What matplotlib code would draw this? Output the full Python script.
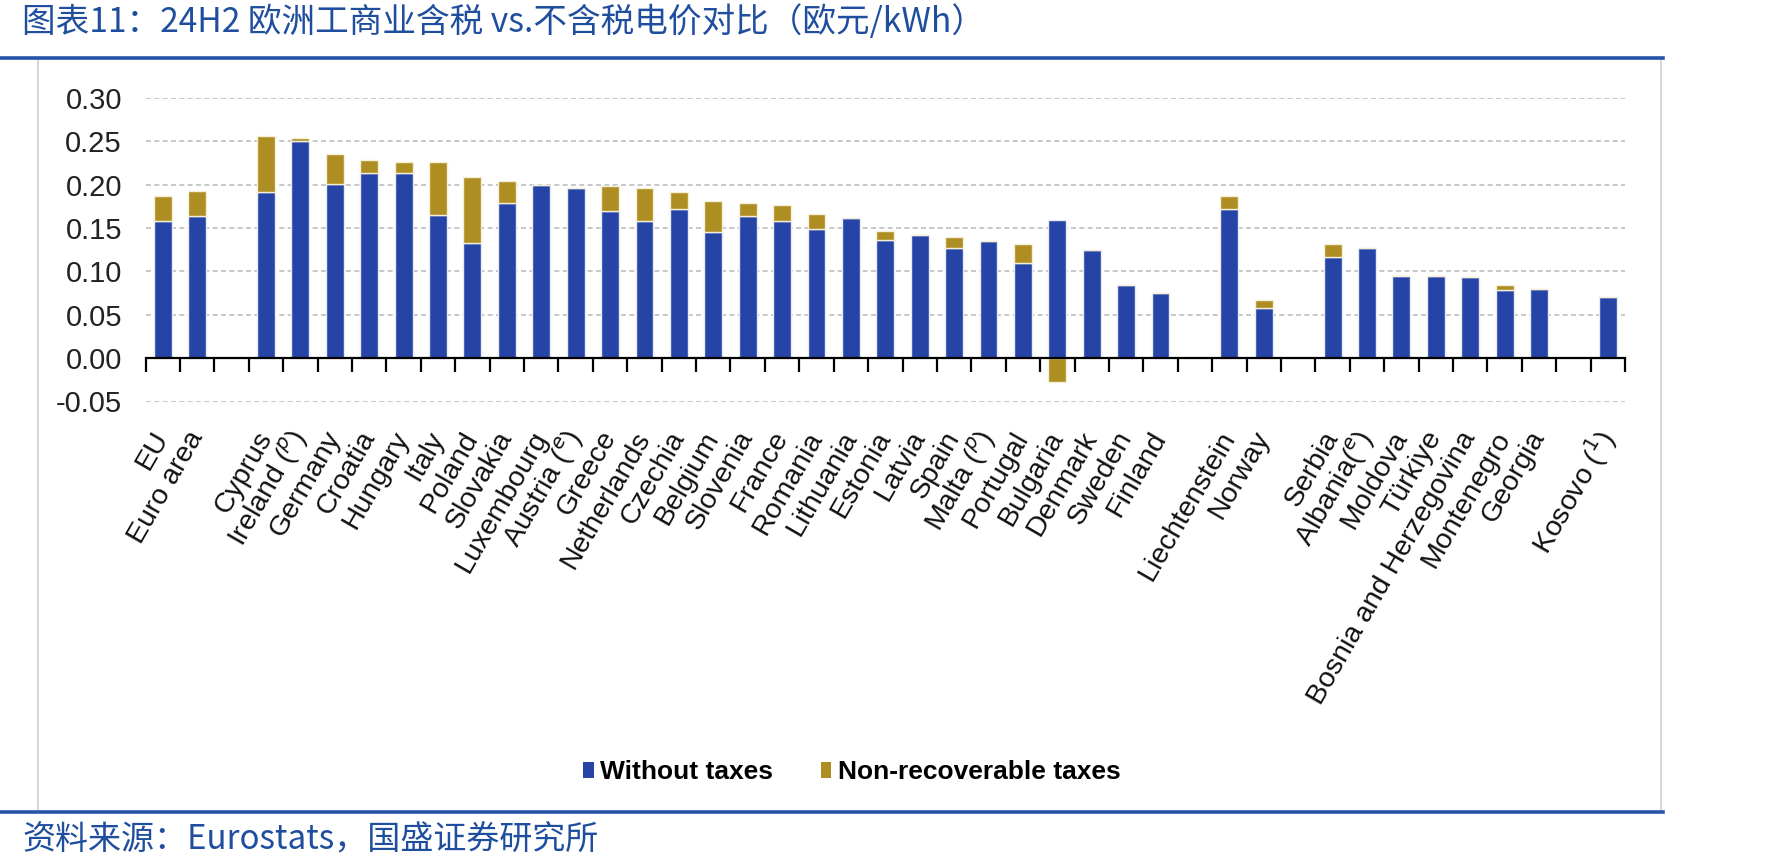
import numpy as np
import matplotlib
matplotlib.use("Agg")
import matplotlib.pyplot as plt
from matplotlib.lines import Line2D
from matplotlib.patches import Patch

# ---------------- data ----------------
categories = ["EU", "Euro area", "",
              "Cyprus", r"Ireland ($^{p}$)", "Germany", "Croatia", "Hungary", "Italy", "Poland",
              "Slovakia", "Luxembourg", r"Austria ($^{e}$)", "Greece", "Netherlands", "Czechia",
              "Belgium", "Slovenia", "France", "Romania", "Lithuania", "Estonia", "Latvia",
              "Spain", r"Malta ($^{p}$)", "Portugal", "Bulgaria", "Denmark", "Sweden", "Finland", "",
              "Liechtenstein", "Norway", "",
              "Serbia", r"Albania($^{e}$)", "Moldova", "Türkiye", "Bosnia and Herzegovina",
              "Montenegro", "Georgia", "",
              r"Kosovo ($^{1}$)"]

without_taxes = [0.158, 0.164, np.nan,
                 0.192, 0.250, 0.201, 0.213, 0.213, 0.165, 0.133,
                 0.179, 0.200, 0.196, 0.170, 0.158, 0.172,
                 0.145, 0.164, 0.158, 0.149, 0.162, 0.136, 0.142,
                 0.127, 0.135, 0.110, 0.159, 0.125, 0.084, 0.075, np.nan,
                 0.172, 0.058, np.nan,
                 0.117, 0.127, 0.095, 0.095, 0.093,
                 0.078, 0.080, np.nan,
                 0.071]

non_recoverable_taxes = [0.029, 0.029, np.nan,
                         0.064, 0.004, 0.034, 0.015, 0.013, 0.061, 0.076,
                         0.025, 0.0, 0.0, 0.028, 0.038, 0.020,
                         0.036, 0.015, 0.019, 0.017, 0.0, 0.011, 0.0,
                         0.013, 0.0, 0.022, -0.028, 0.0, 0.0, 0.0, np.nan,
                         0.015, 0.009, np.nan,
                         0.015, 0.0, 0.0, 0.0, 0.0,
                         0.006, 0.0, np.nan,
                         0.0]

yticks = [-0.05, 0.00, 0.05, 0.10, 0.15, 0.20, 0.25, 0.30]
series_names = ["Without taxes", "Non-recoverable taxes"]

title = "图表11：24H2 欧洲工商业含税 vs.不含税电价对比（欧元/kWh）"
source = "资料来源：Eurostats，国盛证券研究所"

# ---------------- style ----------------
BLUE = "#2644A6"
GOLD = "#AE8E22"
HEAD = "#1F4E9E"
W, H = 1784, 867

fig = plt.figure(figsize=(W / 100, H / 100), dpi=100)
fig.patch.set_facecolor("white")
ax = fig.add_axes([145.6 / W, 1 - 401.5 / H, (1625 - 145.6) / W, (401.5 - 97.8) / H])

x = np.arange(len(categories))
wt = np.array(without_taxes, dtype=float)
tx = np.array(non_recoverable_taxes, dtype=float)
bottoms = np.where(tx >= 0, wt, 0.0)

ax.bar(x, wt, width=0.52, color=BLUE, edgecolor="#E6ECF8", linewidth=1.0, zorder=3)
ax.bar(x, tx, width=0.52, bottom=bottoms, color=GOLD, edgecolor="#F5EFD8",
       linewidth=1.0, zorder=3)

ax.set_xlim(-0.5, len(categories) - 0.5)
ax.set_ylim(-0.05, 0.30)
ax.set_yticks(yticks)
ax.set_yticklabels([f"{v:.2f}" for v in yticks])

# grid
ax.set_axisbelow(True)
ax.yaxis.grid(True, linestyle=(0, (3, 2)), color="#BDBDBD", linewidth=1.2)
ax.xaxis.grid(False)

for s in ["left", "right", "top"]:
    ax.spines[s].set_visible(False)
ax.spines["bottom"].set_position(("data", 0))
ax.spines["bottom"].set_color("black")
ax.spines["bottom"].set_linewidth(1.6)
ax.spines["bottom"].set_zorder(4)

# x ticks: labels at centres, tick marks at category boundaries
ax.set_xticks(x)
ax.set_xticklabels(categories, rotation=60, ha="right", va="center",
                   rotation_mode="anchor", fontsize=20.5,
                   family=["Liberation Sans", "DejaVu Sans"], color="#111111")
ax.set_xticks(np.arange(len(categories) + 1) - 0.5, minor=True)
ax.tick_params(axis="x", which="major", length=0, pad=54)
ax.tick_params(axis="x", which="minor", length=10, width=1.6, direction="out", color="black")

ax.tick_params(axis="y", length=0, pad=17)
for lab in ax.get_yticklabels():
    lab.set_fontsize(21)
    lab.set_family(["Liberation Sans"])
    lab.set_color("#222222")

# legend
handles = [Patch(facecolor=BLUE, edgecolor="none"), Patch(facecolor=GOLD, edgecolor="none")]
leg = fig.legend(handles, series_names, loc="center", bbox_to_anchor=(852 / W, 1 - 772 / H),
                 ncol=2, frameon=False, handlelength=0.4, handleheight=0.55,
                 handletextpad=0.25, columnspacing=1.8,
                 prop={"family": ["Liberation Sans"], "weight": "bold", "size": 19})

# frame and header/footer lines
fig.add_artist(Line2D([37.5 / W, 37.5 / W], [1 - 60 / H, 1 - 812 / H], color="#CFCFCF", lw=1.2))
fig.add_artist(Line2D([1661 / W, 1661 / W], [1 - 60 / H, 1 - 812 / H], color="#CFCFCF", lw=1.2))
fig.add_artist(Line2D([0, 1663 / W], [1 - 58 / H, 1 - 58 / H], color="#2556A5", lw=2.6))
fig.add_artist(Line2D([0, 1663 / W], [1 - 812 / H, 1 - 812 / H], color="#2556A5", lw=2.6))

fig.text(22 / W, 1 - 23 / H, title, fontsize=24.2, color=HEAD, va="center", ha="left",
         family=["Noto Sans CJK SC", "DejaVu Sans"])
fig.text(22 / W, 1 - 840 / H, source, fontsize=23.8, color=HEAD, va="center", ha="left",
         family=["Noto Sans CJK SC", "DejaVu Sans"])

fig.savefig("out.png", dpi=100, facecolor="white")
